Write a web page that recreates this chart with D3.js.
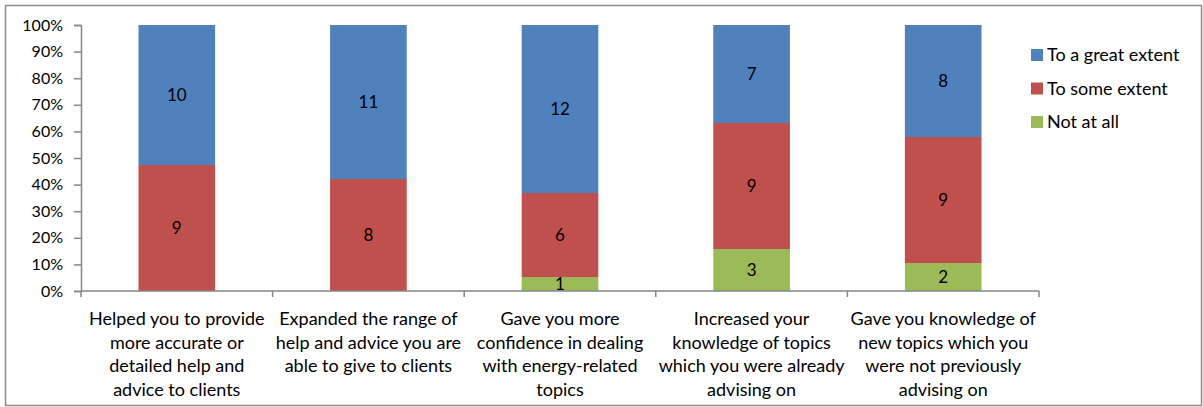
<!DOCTYPE html>
<html>
<head>
<meta charset="utf-8">
<script src="https://cdn.jsdelivr.net/npm/d3@7"></script>
<style>
  html, body { margin: 0; padding: 0; background: #fff; }
  svg { display: block; font-family: Lato, "Open Sans", sans-serif; }
</style>
</head>
<body>
<svg id="chart" width="1203" height="407"></svg>
<script>
// Survey responses: how much the training helped, per statement
const categories = [
  ["Helped you to provide", "more accurate or", "detailed help and", "advice to clients"],
  ["Expanded the range of", "help and advice you are", "able to give to clients"],
  ["Gave you  more", "confidence in dealing", "with energy-related", "topics"],
  ["Increased your", "knowledge of topics", "which you were already", "advising on"],
  ["Gave you knowledge of", "new topics which you", "were not previously", "advising on"]
];
const notAtAll = [0, 0, 1, 3, 2];
const toSomeExtent = [9, 8, 6, 9, 9];
const toAGreatExtent = [10, 11, 12, 7, 8];
const seriesNames = ["Not at all", "To some extent", "To a great extent"];
const seriesColors = ["#9BBB59", "#C0504D", "#4F81BD"];
const yTicks = [0, 0.1, 0.2, 0.3, 0.4, 0.5, 0.6, 0.7, 0.8, 0.9, 1];

const svg = d3.select("#chart");
const axisColor = "#868686";

// outer frame
svg.append("rect")
  .attr("x", 5.5).attr("y", 5.5).attr("width", 1196).attr("height", 400)
  .attr("fill", "none").attr("stroke", "#8c8c8c").attr("stroke-width", 1.5);

const plotLeft = 81, plotRight = 1039, plotTop = 25, plotBottom = 291;

const rows = categories.map((c, i) => ({
  i,
  vals: [notAtAll[i], toSomeExtent[i], toAGreatExtent[i]]
}));

const x = d3.scaleBand().domain(d3.range(categories.length))
  .range([plotLeft, plotRight]).paddingInner(0.6).paddingOuter(0.3);
const xb = d3.scaleBand().domain(d3.range(categories.length)).range([plotLeft, plotRight]);
const y = d3.scaleLinear().domain([0, 1]).range([plotBottom, plotTop]);

// stacked segments as shares of each bar's total
const stackData = rows.map(r => {
  const total = d3.sum(r.vals);
  const o = { i: r.i };
  r.vals.forEach((v, k) => { o["s" + k] = v / total; o["v" + k] = v; });
  return o;
});
const stack = d3.stack().keys(["s0", "s1", "s2"]);
const layers = stack(stackData);

const g = svg.append("g");
layers.forEach((layer, k) => {
  layer.forEach(seg => {
    const d = seg.data;
    const val = d["v" + k];
    if (val === 0) return;
    g.append("rect")
      .attr("x", x(d.i)).attr("width", x.bandwidth())
      .attr("y", y(seg[1])).attr("height", y(seg[0]) - y(seg[1]))
      .attr("fill", seriesColors[k]);
  });
});

// value labels
layers.forEach((layer, k) => {
  layer.forEach(seg => {
    const d = seg.data;
    const val = d["v" + k];
    if (val === 0) return;
    g.append("text")
      .attr("x", x(d.i) + x.bandwidth() / 2)
      .attr("y", (y(seg[0]) + y(seg[1])) / 2)
      .attr("dy", "0.35em")
      .attr("text-anchor", "middle")
      .attr("font-size", 17)
      .attr("fill", "#000")
      .text(val);
  });
});

// y axis
const yAxis = svg.append("g").attr("transform", `translate(${plotLeft},0)`)
  .call(d3.axisLeft(y).tickValues(yTicks).tickFormat(d3.format(".0%")).tickSizeOuter(0).tickSize(7).tickPadding(11));
yAxis.select(".domain").attr("stroke", axisColor).attr("stroke-width", 1.5);
yAxis.selectAll(".tick line").attr("stroke", axisColor).attr("stroke-width", 1.5);
yAxis.selectAll(".tick text").attr("font-size", 16).attr("fill", "#000").attr("font-family", "Lato, sans-serif");

// x axis baseline and category dividers
const xAxis = svg.append("g");
xAxis.append("line").attr("x1", plotLeft).attr("x2", plotRight).attr("y1", plotBottom).attr("y2", plotBottom)
  .attr("stroke", axisColor).attr("stroke-width", 1.5);
d3.range(categories.length + 1).forEach(i => {
  const xx = i < categories.length ? xb(i) : plotRight;
  xAxis.append("line").attr("x1", xx).attr("x2", xx).attr("y1", plotBottom).attr("y2", plotBottom + 6)
    .attr("stroke", axisColor).attr("stroke-width", 1.5);
});

// category labels
categories.forEach((lines, i) => {
  const cx = xb(i) + xb.bandwidth() / 2;
  const t = svg.append("text").attr("text-anchor", "middle").attr("font-size", 18).attr("fill", "#000");
  lines.forEach((ln, j) => {
    t.append("tspan").attr("x", cx).attr("y", 325 + j * 23.5).text(ln);
  });
});

// legend (top entry is the top of the stack)
const legendOrder = [2, 1, 0];
legendOrder.forEach((k, j) => {
  const ly = 49 + j * 33.5;
  svg.append("rect").attr("x", 1031).attr("y", ly).attr("width", 12).attr("height", 12)
    .attr("fill", seriesColors[k]);
  svg.append("text").attr("x", 1047).attr("y", ly + 6).attr("dy", "0.35em")
    .attr("font-size", 18).attr("fill", "#000").text(seriesNames[k]);
});
</script>
</body>
</html>
